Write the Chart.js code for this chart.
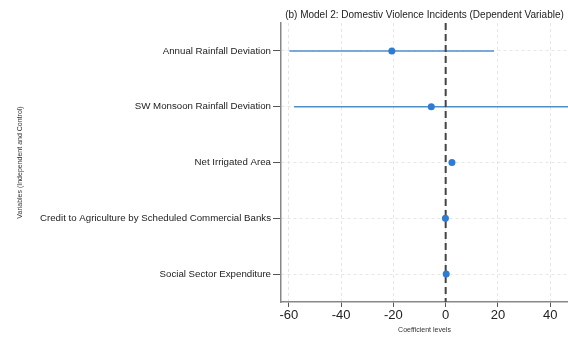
<!DOCTYPE html>
<html lang="en">
<head>
    <meta charset="UTF-8">
    <title>Model 2 Coefficients</title>
    <style>
        body {
            margin: 0;
            padding: 0;
            background-color: #fff;
        }
        .chart-container {
            width: 568px;
            height: 338px;
        }
    </style>
</head>
<body>

    <div class="chart-container">
        <canvas id="coefChart" width="568" height="338"></canvas>
    </div>

    <script src="https://cdn.jsdelivr.net/npm/chart.js"></script>
    <script>
        // Regressors, top to bottom
        const variables = [
            'Annual Rainfall Deviation',
            'SW Monsoon Rainfall Deviation',
            'Net Irrigated Area',
            'Credit to Agriculture by Scheduled Commercial Banks',
            'Social Sector Expenditure'
        ];
        // Point estimates and 95% confidence bounds
        const coefficients = [-20.6, -5.5, 2.4, -0.1, 0.2];
        const lowerBounds = [-59.8, -58.0, 1.9, -0.4, -0.1];
        const upperBounds = [18.5, 48.5, 2.9, 0.2, 0.5];
        const xTicks = [-60, -40, -20, 0, 20, 40];

        const points = coefficients.map((c, i) => ({ x: c, y: i + 1 }));

        // Confidence interval whiskers and the dashed zero reference line
        const intervalPlugin = {
            id: 'intervals',
            beforeDatasetsDraw(chart) {
                const { ctx, chartArea, scales: { x, y } } = chart;
                ctx.save();
                ctx.beginPath();
                ctx.rect(chartArea.left, chartArea.top, chartArea.right - chartArea.left, chartArea.bottom - chartArea.top);
                ctx.clip();

                ctx.strokeStyle = '#4f8fc9';
                ctx.lineWidth = 1.5;
                lowerBounds.forEach((lo, i) => {
                    const py = y.getPixelForValue(i + 1);
                    ctx.beginPath();
                    ctx.moveTo(x.getPixelForValue(lo), py);
                    ctx.lineTo(x.getPixelForValue(upperBounds[i]), py);
                    ctx.stroke();
                });

                const zx = x.getPixelForValue(0);
                ctx.strokeStyle = '#444';
                ctx.lineWidth = 2;
                ctx.setLineDash([7, 4]);
                ctx.beginPath();
                ctx.moveTo(zx, chartArea.top);
                ctx.lineTo(zx, chartArea.bottom);
                ctx.stroke();
                ctx.restore();
            }
        };

        const config = {
            type: 'scatter',
            data: {
                datasets: [{
                    data: points,
                    backgroundColor: '#2e7bd3',
                    borderColor: '#2e7bd3',
                    pointRadius: 3.5,
                    pointBorderWidth: 0
                }]
            },
            options: {
                responsive: false,
                animation: false,
                layout: { padding: 0, autoPadding: false },
                plugins: {
                    legend: { display: false },
                    tooltip: { enabled: false },
                    title: {
                        display: true,
                        fullSize: false,
                        text: '(b) Model 2: Domestiv Violence Incidents (Dependent Variable)',
                        color: '#222',
                        font: { family: 'Liberation Sans', size: 10, weight: 'normal' },
                        padding: { top: 9, bottom: 2 }
                    }
                },
                scales: {
                    x: {
                        type: 'linear',
                        min: -63,
                        max: 46.8,
                        afterBuildTicks: axis => {
                            axis.ticks = xTicks.map(v => ({ value: v }));
                        },
                        afterFit: axis => { axis.height = 36; },
                        grid: {
                            color: '#e6e6e6',
                            lineWidth: 1,
                            tickColor: '#555',
                            tickLength: 5,
                            tickWidth: 1
                        },
                        border: { color: '#888', width: 1.5, dash: [3, 3] },
                        ticks: {
                            color: '#222',
                            padding: 1,
                            maxRotation: 0,
                            font: { family: 'Liberation Sans', size: 13 }
                        },
                        title: {
                            display: true,
                            text: 'Coefficient levels',
                            color: '#333',
                            font: { family: 'Liberation Sans', size: 7 },
                            padding: { top: 0, bottom: 4 }
                        }
                    },
                    y: {
                        type: 'linear',
                        reverse: true,
                        min: 0.5,
                        max: 5.5,
                        afterBuildTicks: axis => {
                            axis.ticks = variables.map((v, i) => ({ value: i + 1 }));
                        },
                        afterFit: axis => { axis.width = 281; },
                        grid: {
                            color: '#e6e6e6',
                            lineWidth: 1,
                            tickColor: '#555',
                            tickLength: 8,
                            tickWidth: 1
                        },
                        border: { color: '#888', width: 1.5, dash: [3, 3] },
                        ticks: {
                            color: '#222',
                            padding: 2,
                            font: { family: 'Liberation Sans', size: 9.7 },
                            callback: value => variables[value - 1]
                        },
                        title: {
                            display: true,
                            text: 'Variables (Independent and Control)',
                            color: '#333',
                            font: { family: 'Liberation Sans', size: 7 },
                            padding: { top: 16, bottom: 0 }
                        }
                    }
                }
            },
            plugins: [intervalPlugin]
        };

        const coefChart = new Chart(document.getElementById('coefChart'), config);
    </script>

</body>
</html>
